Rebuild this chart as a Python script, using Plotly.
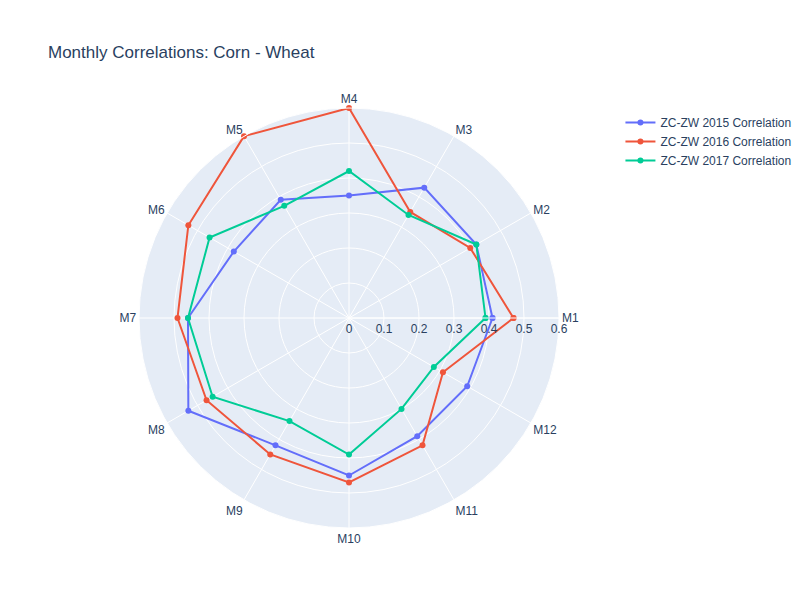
import plotly.graph_objects as go

months = ["M1", "M2", "M3", "M4", "M5", "M6", "M7", "M8", "M9", "M10", "M11", "M12"]
corr_2015 = [0.41, 0.42, 0.43, 0.35, 0.39, 0.38, 0.46, 0.53, 0.42, 0.45, 0.39, 0.39]
corr_2016 = [0.47, 0.40, 0.35, 0.60, 0.60, 0.53, 0.49, 0.47, 0.45, 0.47, 0.42, 0.31]
corr_2017 = [0.39, 0.42, 0.34, 0.42, 0.37, 0.46, 0.46, 0.45, 0.34, 0.39, 0.30, 0.28]

series = [
    ("ZC-ZW 2015 Correlation", corr_2015),
    ("ZC-ZW 2016 Correlation", corr_2016),
    ("ZC-ZW 2017 Correlation", corr_2017),
]

fig = go.Figure()
for name, vals in series:
    # close the loop back to M1
    fig.add_trace(go.Scatterpolar(
        r=vals + vals[:1],
        theta=months + months[:1],
        mode="lines+markers",
        name=name,
    ))

fig.update_layout(
    title="Monthly Correlations: Corn - Wheat",
    font=dict(family="Liberation Sans, Arial, sans-serif"),
    width=800,
    height=600,
    polar=dict(
        radialaxis=dict(range=[0, 0.6], dtick=0.1, angle=0),
        angularaxis=dict(rotation=0, direction="counterclockwise"),
    ),
)

fig.write_html("out.html")
